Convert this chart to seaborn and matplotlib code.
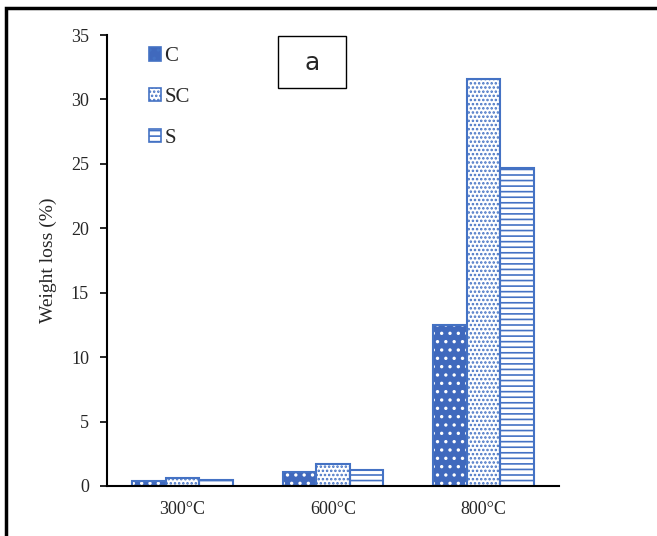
import matplotlib
matplotlib.use("Agg")
import matplotlib.pyplot as plt
import seaborn as sns
import pandas as pd
from matplotlib.patches import Rectangle, Patch

temps = ["300°C", "600°C", "800°C"]
series = ["C", "SC", "S"]
c_vals = [0.4, 1.1, 12.5]
sc_vals = [0.6, 1.7, 31.6]
s_vals = [0.5, 1.25, 24.7]
yticks = [0, 5, 10, 15, 20, 25, 30, 35]

df = pd.DataFrame({
    "Temperature": temps * 3,
    "Series": ["C"] * 3 + ["SC"] * 3 + ["S"] * 3,
    "Weight loss": c_vals + sc_vals + s_vals,
})

sns.set_theme(style="white")
plt.rcParams["font.family"] = ["Liberation Serif", "DejaVu Serif"]
plt.rcParams["hatch.linewidth"] = 1.2

blue = "#4472C4"
face = {"C": "#4069BD", "SC": "white", "S": "white"}
hatch = {"C": "..", "SC": "....", "S": "---"}
hcol = {"C": "white", "SC": blue, "S": blue}

fig = plt.figure(figsize=(6.57, 5.36), dpi=100)
ax = fig.add_axes([107 / 657, 50 / 536, 452 / 657, 451 / 536])

sns.barplot(data=df, x="Temperature", y="Weight loss", hue="Series",
            hue_order=series, order=temps, palette=[blue] * 3,
            width=0.67, gap=0, ax=ax, legend=False, errorbar=None)

for cont, s in zip(ax.containers, series):
    for p in cont:
        p.set_facecolor(face[s])
        p.set_hatch(hatch[s])
        p.set_edgecolor(hcol[s])
        p.set_linewidth(0)
        ax.add_patch(Rectangle(p.get_xy(), p.get_width(), p.get_height(),
                               fill=False, edgecolor=blue, linewidth=1.5,
                               zorder=p.get_zorder() + 0.1))

ax.set_ylim(0, 35)
ax.set_yticks(yticks)
ax.set_yticklabels([str(t) for t in yticks], fontsize=13)
ax.set_xlim(-0.5, 2.5)
ax.tick_params(axis="x", length=0, labelsize=13, pad=11)
ax.tick_params(axis="y", direction="out", length=5, width=1.2, color="black",
               left=True, labelsize=13, pad=8)
ax.set_xlabel("")
ax.set_ylabel("Weight loss (%)", fontsize=14, labelpad=10)
for side in ["top", "right"]:
    ax.spines[side].set_visible(False)
for side in ["left", "bottom"]:
    ax.spines[side].set_color("black")
    ax.spines[side].set_linewidth(1.5)

handles = []
for s in series:
    handles.append(Patch(facecolor=face[s], edgecolor=blue,
                         hatch=hatch[s], linewidth=1.2))
leg = ax.legend(handles, series, loc="upper left", bbox_to_anchor=(0.06, 1.005),
                frameon=False, fontsize=15, handlelength=0.6, handleheight=0.6,
                handletextpad=0.15, labelspacing=1.05, borderaxespad=0.3)

fig.text(312 / 657, 1 - 63 / 536, "a", fontsize=18, family="DejaVu Sans",
         ha="center", va="center")
fig.add_artist(Rectangle((278 / 657, 1 - 88 / 536), 68 / 657, 52 / 536,
                         transform=fig.transFigure, fill=False,
                         edgecolor="black", linewidth=1.0))

fig.add_artist(Rectangle((6 / 657, -0.05), 1.1, 1 - 8 / 536 + 0.05,
                         transform=fig.transFigure, fill=False,
                         edgecolor="black", linewidth=2.5))

fig.savefig("out.png", dpi=100)
